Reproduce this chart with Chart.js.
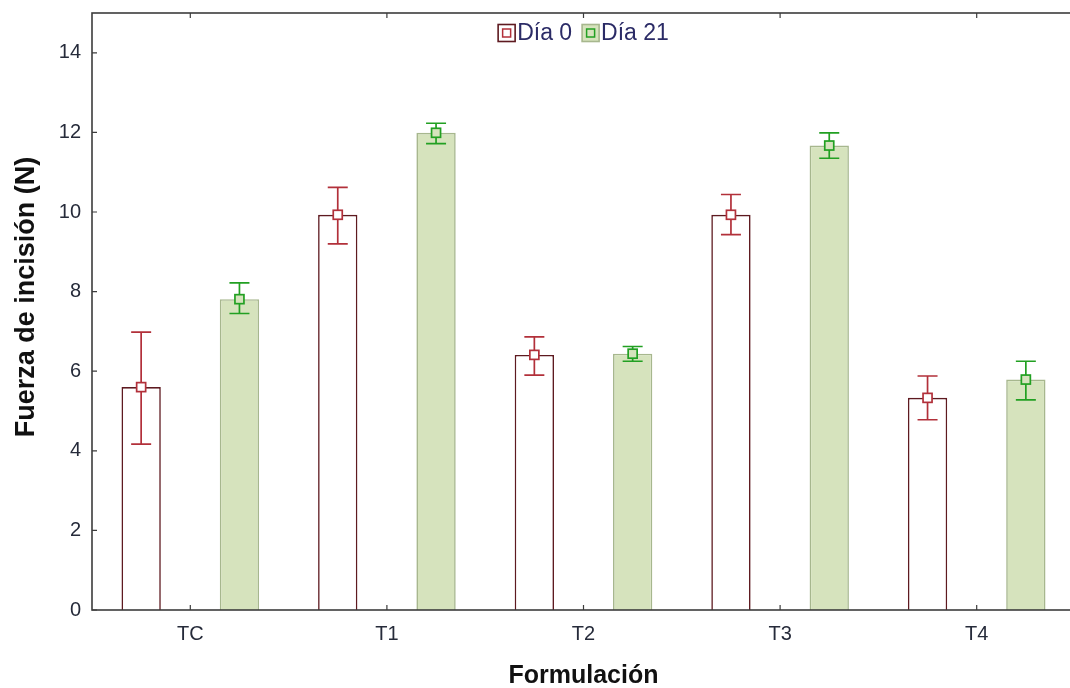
<!DOCTYPE html>
<html>
<head>
<meta charset="utf-8">
<script src="https://cdn.jsdelivr.net/npm/chart.js@4.4.1/dist/chart.umd.min.js"></script>
<style>
  html, body { margin: 0; padding: 0; background: #fff; overflow: hidden; }
  #wrap { width: 1080px; height: 688px; }
</style>
</head>
<body>
<div id="wrap"><canvas id="c" width="1080" height="688"></canvas></div>
<script>
// ---- data ----
const categories = ['TC', 'T1', 'T2', 'T3', 'T4'];
const seriesNames = ['Día 0', 'Día 21'];
const dia0 = [5.60, 9.93, 6.41, 9.93, 5.33];
const dia0Low = [4.17, 9.20, 5.90, 9.43, 4.78];
const dia0High = [6.98, 10.62, 6.86, 10.44, 5.88];
const dia21 = [7.81, 11.99, 6.44, 11.67, 5.79];
const dia21Low = [7.45, 11.72, 6.25, 11.35, 5.28];
const dia21High = [8.22, 12.23, 6.62, 11.99, 6.25];
const yTicks = [0, 2, 4, 6, 8, 10, 12, 14];
const yTitle = 'Fuerza de incisión (N)';

const errColors = ['#b2303a', '#22a022'];

const errorBarPlugin = {
  id: 'errorBars',
  afterDatasetsDraw(chart) {
    const ctx = chart.ctx;
    const y = chart.scales.y;
    chart.data.datasets.forEach((ds, i) => {
      const meta = chart.getDatasetMeta(i);
      ctx.save();
      ctx.strokeStyle = ds.errColor;
      ctx.lineWidth = 1.7;
      meta.data.forEach((bar, j) => {
        const x = bar.x;
        const yl = y.getPixelForValue(ds.errLow[j]);
        const yh = y.getPixelForValue(ds.errHigh[j]);
        const yv = y.getPixelForValue(ds.data[j]);
        const cap = 10;
        ctx.beginPath();
        ctx.moveTo(x, yl); ctx.lineTo(x, yh);
        ctx.moveTo(x - cap, yl); ctx.lineTo(x + cap, yl);
        ctx.moveTo(x - cap, yh); ctx.lineTo(x + cap, yh);
        ctx.stroke();
        const m = 4.5;
        ctx.fillStyle = ds.backgroundColor;
        ctx.fillRect(x - m, yv - m, 2 * m, 2 * m);
        ctx.strokeRect(x - m, yv - m, 2 * m, 2 * m);
      });
      ctx.restore();
    });
  }
};

const framePlugin = {
  id: 'frame',
  afterDraw(chart) {
    const ctx = chart.ctx;
    const a = chart.chartArea;
    const xs = chart.scales.x, ys = chart.scales.y;
    ctx.save();
    ctx.strokeStyle = '#3c3c3c';
    ctx.lineWidth = 1.6;
    ctx.strokeRect(a.left, a.top, a.right - a.left, a.bottom - a.top);
    ctx.lineWidth = 1.2;
    ctx.beginPath();
    yTicks.forEach(v => {
      const py = ys.getPixelForValue(v);
      ctx.moveTo(a.left, py); ctx.lineTo(a.left + 5, py);
    });
    categories.forEach((c, i) => {
      const px = xs.getPixelForValue(i);
      ctx.moveTo(px, a.bottom); ctx.lineTo(px, a.bottom - 5);
      ctx.moveTo(px, a.top); ctx.lineTo(px, a.top + 5);
    });
    ctx.stroke();

    // y-axis title
    ctx.save();
    ctx.font = 'bold 27px "Liberation Sans", Arial, sans-serif';
    ctx.fillStyle = '#111';
    ctx.textAlign = 'center';
    ctx.textBaseline = 'middle';
    ctx.translate(27, 297);
    ctx.rotate(-Math.PI / 2);
    ctx.fillText(yTitle, 0, 0);
    ctx.restore();

    // legend
    ctx.font = '23px "Liberation Sans", Arial, sans-serif';
    ctx.textBaseline = 'middle';
    const box = 17, gap = 2, spacing = 10;
    const items = chart.data.datasets.map(ds => ({ ds, w: box + gap + ctx.measureText(ds.label).width }));
    const total = items.reduce((s, it) => s + it.w, 0) + spacing * (items.length - 1);
    let x = (a.left + a.right) / 2 - total / 2;
    const cy = a.top + 20;
    items.forEach(it => {
      const ds = it.ds;
      ctx.fillStyle = ds.backgroundColor;
      ctx.fillRect(x, cy - box / 2, box, box);
      ctx.strokeStyle = ds.borderColor;
      ctx.lineWidth = 1.6;
      ctx.strokeRect(x, cy - box / 2, box, box);
      ctx.strokeStyle = ds.errColor;
      ctx.lineWidth = 1.5;
      ctx.strokeRect(x + box / 2 - 4, cy - 4, 8, 8);
      ctx.fillStyle = '#2b2b66';
      ctx.fillText(ds.label, x + box + gap, cy + 1);
      x += it.w + spacing;
    });
    ctx.restore();
  }
};

new Chart(document.getElementById('c'), {
  type: 'bar',
  data: {
    labels: categories,
    datasets: [
      {
        label: seriesNames[0], data: dia0, errLow: dia0Low, errHigh: dia0High, errColor: errColors[0],
        backgroundColor: '#ffffff', borderColor: '#5e1a20', borderWidth: 1.6, borderSkipped: 'bottom'
      },
      {
        label: seriesNames[1], data: dia21, errLow: dia21Low, errHigh: dia21High, errColor: errColors[1],
        backgroundColor: '#d6e3bd', borderColor: '#a7b78e', borderWidth: 1.6, borderSkipped: 'bottom'
      }
    ]
  },
  plugins: [errorBarPlugin, framePlugin],
  options: {
    responsive: false,
    animation: false,
    datasets: { bar: { categoryPercentage: 1.0, barPercentage: 0.4 } },
    layout: { padding: { left: 0, top: 13, right: 5, bottom: 0 } },
    plugins: { legend: { display: false }, tooltip: { enabled: false } },
    scales: {
      x: {
        grid: { display: false, drawTicks: false },
        border: { display: false },
        ticks: { padding: 12, color: '#262b3a', font: { family: '"Liberation Sans", Arial', size: 20 } },
        title: { display: true, text: 'Formulación', color: '#111', padding: { top: 0, bottom: -3 },
          font: { family: '"Liberation Sans", Arial', size: 25, weight: 'bold' } },
        afterFit(s) { s.height = 78; s.paddingLeft = 0; s.paddingRight = 0; }
      },
      y: {
        min: 0, max: 15,
        grid: { display: false, drawTicks: false },
        border: { display: false },
        ticks: { stepSize: 2, includeBounds: false, padding: 11, color: '#262b3a',
          font: { family: '"Liberation Sans", Arial', size: 20 } },
        title: { display: false },
        afterFit(s) { s.width = 92; s.paddingTop = 0; s.paddingBottom = 0; }
      }
    }
  }
});
</script>
</body>
</html>
